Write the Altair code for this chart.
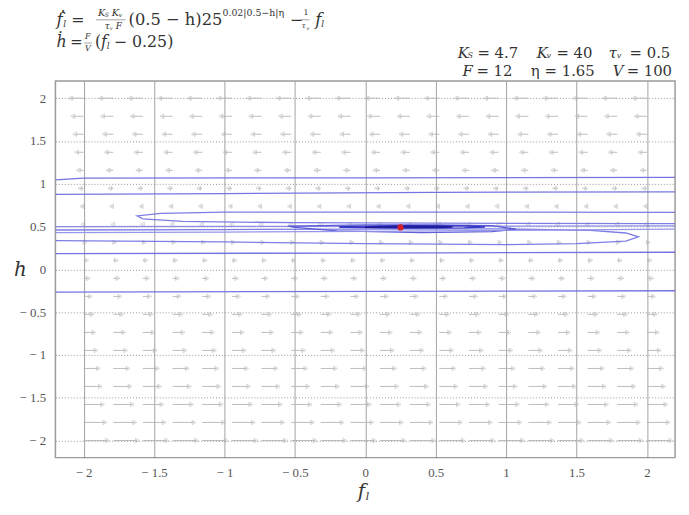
import altair as alt
import pandas as pd

# ---------------- data ----------------
tick_vals = [-2, -1.5, -1, -0.5, 0, 0.5, 1, 1.5, 2]

# quiver grid (f_l positions, h positions)
grid_f = [-2.0, -1.789, -1.579, -1.368, -1.158, -0.947, -0.737, -0.526, -0.316, -0.105,
          0.105, 0.316, 0.526, 0.737, 0.947, 1.158, 1.368, 1.579, 1.789, 2.0]
grid_h = [-2.0, -1.789, -1.579, -1.368, -1.158, -0.947, -0.737, -0.526, -0.316, -0.105,
          0.105, 0.316, 0.526, 0.737, 0.947, 1.158, 1.368, 1.579, 1.789, 2.0]
# horizontal arrow length per row (signed, in f_l units)
row_len = [0.17, 0.152, 0.135, 0.119, 0.104, 0.088, 0.074, 0.06, 0.047, 0.034,
           0.022, 0.01, -0.004, -0.013, -0.025, -0.037, -0.05, -0.063, -0.077, -0.092]

# contour / trajectory curves
c1_f = [-2.2, -2.0, 0.0, 2.2]
c1_h = [1.045, 1.065, 1.07, 1.075]
c2_f = [-2.2, -1.0, 0.5, 2.2]
c2_h = [0.875, 0.885, 0.9, 0.905]
c3_f = [2.2, 0.0, -1.0, -1.45, -1.62, -1.58, -1.3, -0.5, 0.5, 2.2]
c3_h = [0.665, 0.67, 0.67, 0.655, 0.625, 0.59, 0.56, 0.545, 0.54, 0.535]
c4_f = [-2.2, 0.0, 2.2]
c4_h = [0.5, 0.503, 0.508]
c5_f = [-2.2, -1.0, 0.0, 1.0, 1.6, 1.85, 1.94, 1.85, 1.5, 1.0, 0.0, -1.0, -2.2]
c5_h = [0.46, 0.465, 0.47, 0.472, 0.455, 0.425, 0.38, 0.33, 0.3, 0.29, 0.3, 0.32, 0.335]
c6_f = [-2.2, 0.0, 2.2]
c6_h = [0.185, 0.19, 0.2]
c7_f = [-2.2, 2.2]
c7_h = [-0.265, -0.25]
c8_f = [-0.55, 0.0, 0.5, 0.9, 1.07, 0.9, 0.4, -0.2, -0.5, -0.55]
c8_h = [0.505, 0.52, 0.52, 0.51, 0.47, 0.44, 0.43, 0.45, 0.49, 0.505]
c9_f = [-0.18, 0.25, 0.7, 0.85, 0.7, 0.25, -0.18, -0.18]
c9_h = [0.5, 0.512, 0.507, 0.495, 0.484, 0.482, 0.49, 0.5]
c10_f = [0.0, 0.25, 0.55, 0.62, 0.55, 0.25, 0.0, 0.0]
c10_h = [0.497, 0.504, 0.501, 0.495, 0.489, 0.488, 0.492, 0.497]
c11_f = [-2.2, -1.0, 0.0, 1.0, 2.2]
c11_h = [0.43, 0.435, 0.445, 0.455, 0.47]

eq_f = [0.25]
eq_h = [0.49]

curve_names = ["c1", "c2", "c3", "c4", "c5", "c6", "c7", "c8", "c9", "c10", "c11"]
curve_colors = ["#6e6ee0", "#6e6ee0", "#7676e2", "#8686e6", "#7676e2", "#6e6ee0",
                "#6e6ee0", "#5656d6", "#3030c2", "#1a1a9a", "#9090ea"]
curve_data = [(c1_f, c1_h), (c2_f, c2_h), (c3_f, c3_h), (c4_f, c4_h), (c5_f, c5_h),
              (c6_f, c6_h), (c7_f, c7_h), (c8_f, c8_h), (c9_f, c9_h), (c10_f, c10_h),
              (c11_f, c11_h)]

# ---------------- geometry helpers ----------------
W, H = 627, 381
X0, Y0 = 56, 79          # page position of the plot's top-left corner
DOM = [-2.2, 2.2]
PXU = W / 4.4
PYU = H / 4.4


def fx(px):
    return DOM[0] + (px - X0) / PXU


def fy(py):
    return DOM[1] - (py - Y0) / PYU


xs = alt.Scale(domain=DOM, nice=False, zero=False)
ys = alt.Scale(domain=DOM, nice=False, zero=False)

# ---------------- tables ----------------
arrows = []
for h, L in zip(grid_h, row_len):
    for f in grid_f:
        arrows.append({"f0": f, "f1": f + L, "h": h, "dir": "r" if L > 0 else "l"})
arrows = pd.DataFrame(arrows)

rows = []
for name, (cf, ch) in zip(curve_names, curve_data):
    for i, (a, b) in enumerate(zip(cf, ch)):
        rows.append({"curve": name, "i": i, "f": a, "h": b})
curves = pd.DataFrame(rows)

eq = pd.DataFrame({"f": eq_f, "h": eq_h})

# annotations given in page pixels: (px, py, text, size, italic)
ann = [
    # line 1 of equations
    (57, 17, "ḟ", 17, True), (64, 21, "l", 9, True),
    (72, 17, "=", 16, False),
    (99, 10, "K", 10, True), (106, 12, "S", 6, True),
    (113, 10, "K", 10, True), (120, 12, "v", 6, True),
    (106, 23, "τ", 9, True), (111, 25, "v", 5, True),
    (117, 23, "F", 9, True),
    (130, 17, "(0.5 − h)25", 16.5, False),
    (225, 10, "0.02|0.5−h|η", 9.5, False),
    (293, 17, "−", 16, False),
    (307, 10, "1", 8, False),
    (305, 23, "τ", 8, True), (310, 25, "v", 5, True),
    (319, 17, "f", 17, True), (325, 21, "l", 9, True),
    # line 2
    (57, 40, "ḣ", 16, True),
    (71, 40, "=", 15, False),
    (86, 34, "F", 8, True), (86, 47, "V", 8, True),
    (96, 40, "(", 16, False),
    (102, 40, "f", 16, True), (108, 44, "l", 9, True),
    (115, 40, "− 0.25)", 16, False),
    # parameters, row 1
    (463, 51, "K", 15, True), (473, 54, "S", 8, True),
    (483, 51, "= 4.7", 15, False),
    (543, 51, "K", 15, True), (553, 54, "v", 8, True),
    (563, 51, "= 40", 15, False),
    (616, 51, "τ", 15, True), (624, 54, "v", 8, True),
    (637, 51, "= 0.5", 15, False),
    # parameters, row 2
    (468, 69, "F", 15, True), (482, 69, "= 12", 15, False),
    (537, 69, "η", 15, False), (551, 69, "= 1.65", 15, False),
    (620, 69, "V", 15, True), (634, 69, "= 100", 15, False),
    # axis titles
    (14, 270, "h", 20, True),
    (362, 495, "f", 20, True), (370, 500, "l", 11, True),
]
ann_df = pd.DataFrame([{"f": fx(a[0]), "h": fy(a[1]), "t": a[2], "sz": a[3],
                        "it": a[4]} for a in ann])

bars_px = [(97, 127, 17), (304, 313, 17), (85, 93, 40.5)]
bars = pd.DataFrame([{"f0": fx(a), "f1": fx(b), "h": fy(c)} for a, b, c in bars_px])

# ---------------- layers ----------------
label_expr = "datum.value < 0 ? '− ' + (-datum.value) : '' + datum.value"

x_axis = alt.Axis(values=tick_vals, title=None, grid=True, gridColor="#8a8a8a",
                  gridWidth=0.8, domain=False, ticks=False, labelFont="Liberation Serif",
                  labelFontSize=13, labelColor="#555555", labelPadding=9,
                  labelExpr=label_expr)
y_axis = alt.Axis(values=tick_vals, title=None, grid=True, gridColor="#8a8a8a",
                  gridWidth=0.9, gridDash=[1, 2], domain=False, ticks=False,
                  labelFont="Liberation Serif", labelFontSize=13, labelColor="#555555",
                  labelPadding=10, labelExpr=label_expr)

arrow_color = "#b4b4b4"

shafts = alt.Chart(arrows).mark_rule(color=arrow_color, strokeWidth=0.9).encode(
    x=alt.X("f0:Q", scale=xs, axis=x_axis),
    x2="f1:Q",
    y=alt.Y("h:Q", scale=ys, axis=y_axis),
)

heads = alt.Chart(arrows).mark_point(filled=False, size=20, strokeWidth=0.8,
                                     color=arrow_color).encode(
    x=alt.X("f1:Q", scale=xs),
    y=alt.Y("h:Q", scale=ys),
    shape=alt.Shape("dir:N", scale=alt.Scale(domain=["r", "l"],
                                             range=["triangle-right", "triangle-left"]),
                    legend=None),
)

lines = alt.Chart(curves).mark_line(strokeWidth=1.3, clip=True, opacity=0.95).encode(
    x=alt.X("f:Q", scale=xs),
    y=alt.Y("h:Q", scale=ys),
    detail="curve:N",
    order="i:Q",
    color=alt.Color("curve:N", scale=alt.Scale(domain=curve_names, range=curve_colors),
                    legend=None),
)

eq_pt = alt.Chart(eq).mark_point(shape="circle", filled=True, size=40,
                                 color="#d0202a", opacity=1).encode(
    x=alt.X("f:Q", scale=xs), y=alt.Y("h:Q", scale=ys))

txt_n = alt.Chart(ann_df).transform_filter("!datum.it").mark_text(
    font="DejaVu Serif", color="#333333", align="left", baseline="middle").encode(
    x=alt.X("f:Q", scale=xs), y=alt.Y("h:Q", scale=ys), text="t:N",
    size=alt.Size("sz:Q", scale=None, legend=None))

txt_i = alt.Chart(ann_df).transform_filter("datum.it").mark_text(
    font="DejaVu Serif", fontStyle="italic", color="#333333", align="left",
    baseline="middle").encode(
    x=alt.X("f:Q", scale=xs), y=alt.Y("h:Q", scale=ys), text="t:N",
    size=alt.Size("sz:Q", scale=None, legend=None))

frac = alt.Chart(bars).mark_rule(color="#666666", strokeWidth=0.6).encode(
    x=alt.X("f0:Q", scale=xs), x2="f1:Q", y=alt.Y("h:Q", scale=ys))

chart = alt.layer(shafts, heads, lines, eq_pt, txt_n, txt_i, frac).properties(
    width=W, height=H,
    padding={"left": X0 - 8, "top": Y0 - 8, "right": 6, "bottom": 47},
    autosize=alt.AutoSizeParams(type="none"),
    background="white",
).configure_view(stroke="#9a9a9a", strokeWidth=1.5)

chart.save("out.html", embed_options={"renderer": "svg", "actions": False})
